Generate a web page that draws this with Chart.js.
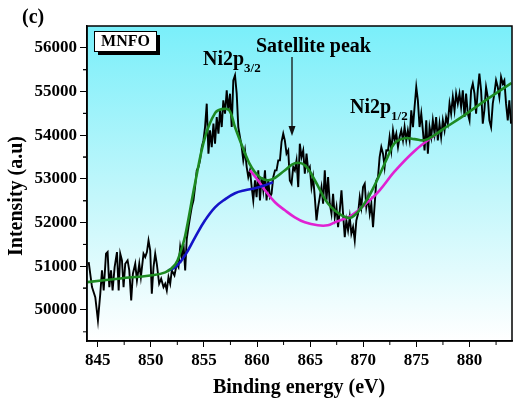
<!DOCTYPE html>
<html>
<head>
<meta charset="utf-8">
<script src="https://cdn.jsdelivr.net/npm/chart.js@4.4.1/dist/chart.umd.min.js"></script>
<style>
  html, body { margin: 0; padding: 0; background: #fff; }
  #wrap { width: 515px; height: 405px; }
</style>
</head>
<body>
<div id="wrap"><canvas id="xps"></canvas></div>
<script>
// measured spectrum (binding energy in eV, intensity in a.u.)
const rawEnergy = [
  844.16, 844.47, 844.78, 845.03, 845.25, 845.41, 845.57, 845.79, 845.94, 846.10,
  846.26, 846.41, 846.60, 846.82, 846.98, 847.13, 847.29, 847.44, 847.60, 847.82,
  847.98, 848.16, 848.32, 848.54, 848.70, 848.92, 849.07, 849.32, 849.48, 849.64,
  849.79, 849.95, 850.10, 850.26, 850.42, 850.57, 850.79, 850.98, 851.20, 851.36,
  851.51, 851.67, 851.83, 851.98, 852.23, 852.45, 852.61, 852.77, 852.92, 853.08,
  853.24, 853.39, 853.55, 853.70, 853.86, 854.02, 854.17, 854.33, 854.49, 854.64,
  854.80, 854.96, 855.11, 855.27, 855.43, 855.58, 855.74, 855.90, 856.05, 856.21,
  856.37, 856.52, 856.68, 856.83, 856.99, 857.15, 857.30, 857.46, 857.62, 857.77,
  857.93, 858.09, 858.24, 858.40, 858.56, 858.71, 858.87, 859.03, 859.18, 859.34,
  859.50, 859.65, 859.81, 859.96, 860.12, 860.28, 860.43, 860.59, 860.75, 860.90,
  861.06, 861.22, 861.37, 861.53, 861.69, 861.84, 862.00, 862.16, 862.31, 862.47,
  862.62, 862.78, 862.94, 863.09, 863.25, 863.41, 863.56, 863.72, 863.88, 864.03,
  864.19, 864.35, 864.50, 864.66, 864.82, 864.97, 865.13, 865.28, 865.44, 865.60,
  865.75, 865.91, 866.07, 866.22, 866.38, 866.54, 866.69, 866.85, 867.01, 867.16,
  867.32, 867.48, 867.63, 867.79, 867.95, 868.10, 868.26, 868.41, 868.57, 868.73,
  868.88, 869.04, 869.20, 869.35, 869.51, 869.67, 869.82, 869.98, 870.14, 870.29,
  870.45, 870.61, 870.76, 870.92, 871.08, 871.23, 871.39, 871.54, 871.70, 871.86,
  872.01, 872.17, 872.33, 872.48, 872.64, 872.80, 872.95, 873.11, 873.27, 873.42,
  873.58, 873.74, 873.89, 874.05, 874.20, 874.36, 874.52, 874.68, 874.83, 874.99,
  875.14, 875.30, 875.46, 875.61, 875.77, 875.93, 876.08, 876.24, 876.40, 876.55,
  876.71, 876.86, 877.02, 877.18, 877.33, 877.49, 877.65, 877.80, 877.96, 878.12,
  878.27, 878.43, 878.59, 878.74, 878.90, 879.06, 879.21, 879.37, 879.53, 879.68,
  879.84, 880.00, 880.15, 880.31, 880.47, 880.62, 880.78, 880.93, 881.09, 881.25,
  881.40, 881.56, 881.72, 881.87, 882.03, 882.19, 882.34, 882.50, 882.66, 882.81,
  882.97, 883.13, 883.28, 883.44, 883.60, 883.75, 883.91
];
const rawIntensity = [
  51096, 50524, 50295, 49761, 50371, 50906, 50448, 51287, 51325, 50524,
  50906, 50448, 50982, 51325, 50448, 51287, 51134, 50524, 51058, 51134,
  50906, 50219, 50829, 51058, 50677, 51058, 50753, 51287, 51211, 51325,
  51592, 51363, 50371, 50982, 51287, 51058, 50600, 50715, 50524, 50600,
  50448, 50753, 50600, 50906, 50791, 51058, 50982, 51440, 51211, 51516,
  50906, 51630, 51898, 52127, 52355, 52508, 52813, 53195, 53271, 53424,
  53729, 53882, 54187, 54722, 53577, 54111, 53729, 54264, 53806, 54416,
  54035, 54569, 54187, 54798, 54493, 55027, 54569, 54951, 54187, 55256,
  55370, 54951, 54187, 53958, 53729, 53424, 53653, 53271, 53042, 53195,
  52813, 52508, 52966, 52584, 53195, 52508, 53042, 52737, 53195, 52508,
  52966, 52584, 52661, 53042, 53195, 53195, 53424, 53424, 53850, 54035,
  53882, 53577, 53653, 52966, 52890, 53271, 53195, 53424, 52813, 53806,
  53500, 53653, 53119, 53577, 53195, 53271, 52813, 53042, 52584, 52050,
  52355, 52584, 52813, 52432, 53195, 52508, 53042, 52432, 52203, 52661,
  52126, 52355, 51897, 52279, 52737, 52203, 51669, 52050, 51821, 52126,
  51745, 51897, 51592, 52050, 52203, 52584, 52355, 52813, 52890, 52355,
  52584, 52203, 52432, 51897, 52432, 52966, 53042, 53500, 53729, 53577,
  53271, 53653, 53650, 53958, 53653, 54111, 53882, 54035, 53729, 53958,
  54111, 53882, 54187, 53882, 54111, 53882, 54569, 54187, 54645, 55103,
  54798, 54187, 54493, 54111, 53653, 54340, 53577, 54187, 53958, 54340,
  54035, 54416, 53882, 54264, 53958, 54340, 54111, 54416, 54264, 54722,
  54493, 54874, 54569, 54951, 54722, 54951, 54645, 55027, 54416, 54951,
  54493, 54340, 55027, 55180, 54951, 54493, 55027, 55409, 55027, 54264,
  54569, 55103, 54874, 54340, 54187, 54722, 54951, 55256, 55103, 54874,
  55332, 55180, 55256, 54722, 54340, 54798, 54264
];

// fitted envelope (green)
const envEnergy = [
  844.03, 847.13, 849.95, 851.36, 852.30, 852.80, 853.23, 854.17, 855.11, 856.05,
  856.71, 857.37, 857.93, 858.87, 859.50, 860.44, 861.38, 862.63, 863.56, 864.50,
  865.44, 866.66, 867.97, 868.91, 870.13, 871.07, 872.29, 872.95, 873.89, 874.83,
  875.77, 876.71, 877.37, 879.25, 881.13, 883.94
];
const envIntensity = [
  50637, 50722, 50791, 50860, 51040, 51330, 51690, 52901, 53955, 54505,
  54597, 54575, 54185, 53589, 53260, 53010, 52985, 53199, 53359, 53313,
  52970, 52442, 52167, 52121, 52442, 52855, 53497, 53818, 53933, 53910,
  53887, 54001, 54116, 54414, 54735, 55194
];

// background under Ni2p3/2 (blue)
const bgLowEnergy = [851.64, 852.30, 853.23, 854.17, 855.11, 856.05, 856.99, 857.93, 858.87, 859.81, 860.75, 861.50];
const bgLowIntensity = [50906, 50975, 51250, 51662, 52052, 52350, 52533, 52671, 52740, 52786, 52855, 52924];

// background under satellite / Ni2p1/2 (magenta)
const bgHighEnergy = [859.34, 860.09, 860.75, 861.69, 862.63, 863.56, 864.50, 865.72, 866.66, 867.32, 868.91, 870.41, 871.54, 872.95, 874.83, 876.99];
const bgHighIntensity = [53199, 52970, 52740, 52465, 52282, 52121, 52006, 51938, 51938, 52006, 52167, 52470, 52740, 53170, 53640, 54047];

const xTicks = [845, 850, 855, 860, 865, 870, 875, 880];
const yTicks = [50000, 51000, 52000, 53000, 54000, 55000, 56000];

const pairs = (xs, ys) => xs.map((x, i) => ({ x: x, y: ys[i] }));
const SERIF = '"Liberation Serif", "Times New Roman", serif';

const decor = {
  id: 'decor',
  beforeDraw(chart) {
    const { ctx, chartArea: a } = chart;
    const g = ctx.createLinearGradient(0, a.top, 0, a.bottom);
    g.addColorStop(0, '#7aeffa');
    g.addColorStop(0.55, '#c4f7fb');
    g.addColorStop(1, '#ffffff');
    ctx.save();
    ctx.fillStyle = g;
    ctx.fillRect(a.left, a.top, a.right - a.left, a.bottom - a.top);
    ctx.restore();
  },
  afterDraw(chart) {
    const { ctx, chartArea: a, scales } = chart;
    const xs = scales.x, ys = scales.y;
    ctx.save();

    // frame
    ctx.strokeStyle = '#000';
    ctx.lineWidth = 1.5;
    ctx.strokeRect(a.left, a.top, a.right - a.left, a.bottom - a.top);

    // minor ticks
    ctx.lineWidth = 1;
    ctx.beginPath();
    xTicks.forEach(v => {
      const p = xs.getPixelForValue(v + 2.5);
      if (p < a.right - 1) { ctx.moveTo(p, a.bottom); ctx.lineTo(p, a.bottom + 4); }
    });
    yTicks.forEach(v => {
      [v - 500, v + 500].forEach(m => {
        if (m > ys.min && m < ys.max) {
          const p = ys.getPixelForValue(m);
          ctx.moveTo(a.left, p); ctx.lineTo(a.left - 4, p);
        }
      });
    });
    ctx.stroke();

    ctx.fillStyle = '#000';
    ctx.textBaseline = 'alphabetic';

    // panel letter
    ctx.font = 'bold 20px ' + SERIF;
    ctx.textAlign = 'left';
    ctx.fillText('(c)', 22, 23);

    // axis titles
    ctx.textAlign = 'center';
    ctx.fillText('Binding energy (eV)', 299, 393);
    ctx.save();
    ctx.translate(17, 196);
    ctx.rotate(-Math.PI / 2);
    ctx.textBaseline = 'middle';
    ctx.fillText('Intensity (a.u)', 0, 0);
    ctx.restore();

    // sample label box
    ctx.fillStyle = '#000';
    ctx.fillRect(98, 35, 62, 20);
    ctx.fillStyle = '#fff';
    ctx.fillRect(94, 31, 62, 20);
    ctx.strokeStyle = '#000';
    ctx.lineWidth = 1;
    ctx.strokeRect(94.5, 31.5, 62, 20);
    ctx.fillStyle = '#000';
    ctx.font = 'bold 16px ' + SERIF;
    ctx.textAlign = 'center';
    ctx.textBaseline = 'middle';
    ctx.fillText('MNFO', 125.5, 42);

    // peak labels
    ctx.textAlign = 'left';
    ctx.textBaseline = 'alphabetic';
    const label = (main, sub, x, y) => {
      ctx.font = 'bold 20px ' + SERIF;
      ctx.fillText(main, x, y);
      const w = ctx.measureText(main).width;
      ctx.font = 'bold 13px ' + SERIF;
      ctx.fillText(sub, x + w, y + 7);
    };
    label('Ni2p', '3/2', 203, 65);
    label('Ni2p', '1/2', 350, 113);
    ctx.font = 'bold 20px ' + SERIF;
    ctx.fillText('Satellite peak', 256, 52);

    // arrow to satellite
    const ax = 292;
    ctx.strokeStyle = '#111';
    ctx.lineWidth = 1.3;
    ctx.beginPath();
    ctx.moveTo(ax, 57);
    ctx.lineTo(ax, 130);
    ctx.stroke();
    ctx.fillStyle = '#111';
    ctx.beginPath();
    ctx.moveTo(ax, 136);
    ctx.lineTo(ax - 3.5, 126);
    ctx.lineTo(ax + 3.5, 126);
    ctx.closePath();
    ctx.fill();

    ctx.restore();
  }
};

new Chart(document.getElementById('xps'), {
  type: 'line',
  data: {
    datasets: [
      {
        data: pairs(envEnergy, envIntensity),
        borderColor: '#1d8a22',
        borderWidth: 2.6,
        tension: 0.4,
        order: 1
      },
      {
        data: pairs(bgLowEnergy, bgLowIntensity),
        borderColor: '#1414c8',
        borderWidth: 2.6,
        tension: 0.4,
        order: 2
      },
      {
        data: pairs(bgHighEnergy, bgHighIntensity),
        borderColor: '#e021d2',
        borderWidth: 2.6,
        tension: 0.4,
        order: 3
      },
      {
        data: pairs(rawEnergy, rawIntensity),
        borderColor: '#000',
        borderWidth: 1.9,
        tension: 0,
        order: 4
      }
    ]
  },
  options: {
    responsive: true,
    maintainAspectRatio: false,
    animation: false,
    devicePixelRatio: 1,
    elements: { point: { radius: 0 } },
    layout: { padding: { top: 26, right: 3, left: 0, bottom: 0 } },
    plugins: { legend: { display: false }, tooltip: { enabled: false } },
    scales: {
      x: {
        type: 'linear',
        min: 844,
        max: 884,
        afterFit: s => { s.height = 64; },
        afterBuildTicks: s => { s.ticks = xTicks.map(v => ({ value: v })); },
        ticks: {
          font: { family: SERIF, size: 17, weight: 'bold' },
          color: '#000',
          padding: 3,
          maxRotation: 0
        },
        grid: { drawOnChartArea: false, drawTicks: true, tickLength: 6, color: '#000', lineWidth: 1 },
        border: { color: '#000', width: 1.5 }
      },
      y: {
        type: 'linear',
        min: 49290,
        max: 56500,
        afterFit: s => { s.width = 87; },
        afterBuildTicks: s => { s.ticks = yTicks.map(v => ({ value: v })); },
        ticks: {
          font: { family: SERIF, size: 17, weight: 'bold' },
          color: '#000',
          padding: 3,
          callback: v => String(v)
        },
        grid: { drawOnChartArea: false, drawTicks: true, tickLength: 7, color: '#000', lineWidth: 1 },
        border: { color: '#000', width: 1.5 }
      }
    }
  },
  plugins: [decor]
});
</script>
</body>
</html>
